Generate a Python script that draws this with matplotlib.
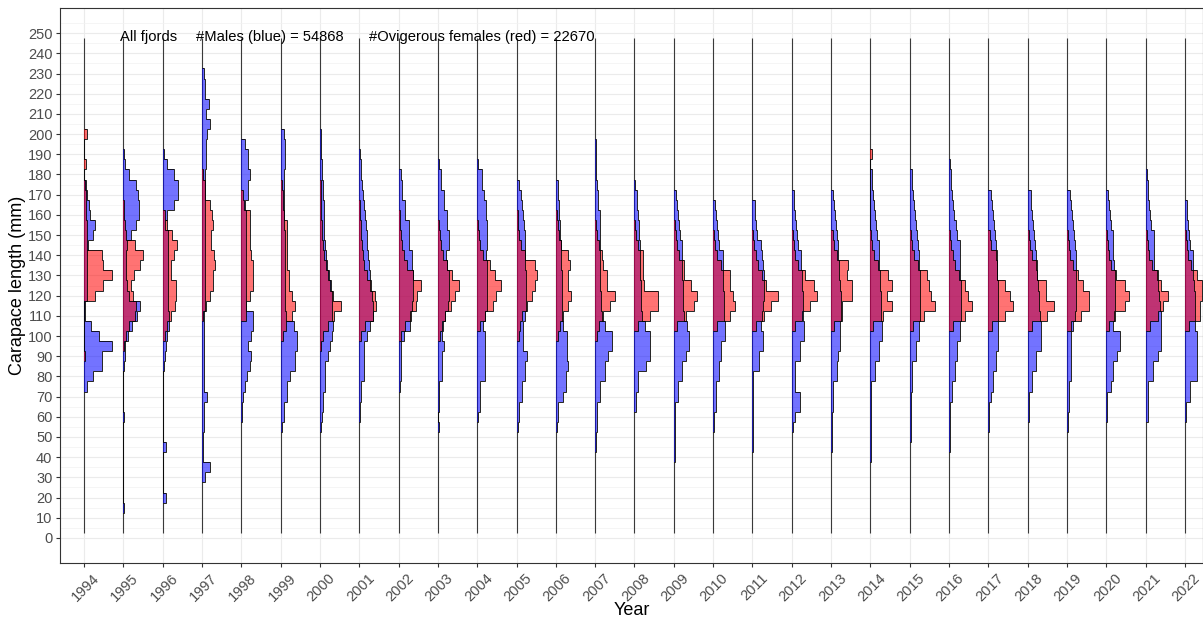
import numpy as np
import matplotlib
matplotlib.use("Agg")
import matplotlib.pyplot as plt
from matplotlib.transforms import ScaledTranslation

plt.rcParams['font.family'] = ['Liberation Sans', 'DejaVu Sans']

years = list(range(1994, 2023))

# lowest bin centre (mm) of each year's histogram, bins are 5 mm wide
male_start = [75, 15, 20, 30, 60, 55, 55, 60, 75, 55, 60, 55, 55, 45, 65,
              40, 55, 45, 55, 45, 40, 50, 45, 55, 60, 55, 60, 60, 60]
female_start = [90, 95, 100, 110, 110, 100, 95, 100, 100, 100, 105, 100, 100, 100, 105,
                105, 105, 105, 105, 105, 105, 105, 105, 105, 105, 105, 105, 105, 105]

# relative histogram widths, from the lowest bin upwards
males = [
    [3, 9, 18, 18, 28, 15, 7, 1, 1, 3, 3, 3, 3, 3, 4, 9, 11, 6, 5, 3, 2],  # 1994
    [1, 0, 0, 0, 0, 0, 0, 0, 0, 1, 0, 0, 0, 0, 1, 2, 2, 5, 9, 14, 17, 6, 4, 3, 3, 3,
     4, 8, 13, 16, 16, 15, 13, 6, 2, 1],  # 1995
    [3, 0, 0, 0, 0, 3, 0, 0, 0, 0, 0, 0, 0, 1, 2, 3, 4, 6, 6, 5, 5, 5, 5, 5, 5, 5, 5,
     2, 4, 11, 15, 15, 11, 4, 1],  # 1996
    [3, 8, 1, 1, 1, 2, 2, 2, 5, 2, 2, 2, 2, 2, 2, 2, 2, 3, 3, 3, 3, 3, 3, 3, 3, 3, 3,
     3, 3, 3, 3, 4, 4, 4, 5, 8, 4, 7, 3, 3, 2],  # 1997
    [1, 1, 2, 4, 6, 9, 10, 7, 10, 12, 12, 5, 5, 5, 5, 5, 5, 5, 5, 5, 5, 4, 7, 7, 9, 7, 7, 4],  # 1998
    [1, 3, 3, 6, 6, 9, 14, 14, 16, 16, 13, 5, 4, 4, 4, 4, 4, 4, 4, 4, 3, 3, 3, 3, 3, 3,
     4, 4, 4, 3],  # 1999
    [1, 2, 3, 3, 5, 5, 5, 8, 10, 12, 13, 12, 12, 12, 11, 9, 7, 6, 5, 4, 4, 4, 4, 3, 3,
     2, 2, 1, 1, 1],  # 2000
    [1, 1, 2, 2, 5, 5, 5, 5, 8, 11, 14, 14, 13, 11, 11, 10, 9, 8, 8, 7, 6, 5, 4, 3, 2, 2, 1],  # 2001
    [1, 2, 2, 2, 2, 5, 11, 11, 13, 14, 14, 14, 13, 13, 10, 10, 10, 6, 6, 3, 3, 2],  # 2002
    [1, 0, 1, 1, 1, 4, 4, 4, 6, 4, 5, 7, 10, 11, 11, 11, 9, 8, 11, 11, 9, 9, 6, 6, 3, 3, 1],  # 2003
    [1, 3, 3, 3, 8, 8, 8, 8, 8, 6, 8, 10, 10, 10, 10, 10, 9, 10, 10, 10, 9, 9, 7, 5, 5, 1],  # 2004
    [1, 2, 2, 5, 5, 8, 8, 10, 6, 6, 6, 8, 9, 9, 9, 9, 8, 8, 8, 8, 7, 6, 5, 4, 2],  # 2005
    [1, 2, 2, 7, 10, 10, 12, 11, 11, 11, 7, 6, 6, 6, 6, 6, 5, 5, 5, 4, 4, 3, 3, 2, 2],  # 2006
    [1, 1, 2, 2, 2, 5, 5, 10, 10, 13, 17, 17, 10, 7, 6, 6, 5, 5, 5, 5, 5, 5, 5, 5, 3, 3,
     2, 1, 1, 1, 1],  # 2007
    [2, 2, 4, 4, 12, 16, 16, 16, 11, 8, 7, 7, 7, 6, 6, 6, 6, 5, 5, 4, 3, 3, 1],  # 2008
    [1, 1, 1, 1, 1, 1, 4, 4, 8, 8, 12, 15, 15, 13, 10, 9, 9, 9, 8, 8, 8, 8, 6, 5, 4, 3, 2],  # 2009
    [1, 1, 3, 3, 3, 6, 6, 8, 8, 12, 12, 11, 11, 11, 10, 10, 10, 10, 6, 5, 4, 3, 2],  # 2010
    [1, 1, 1, 1, 1, 1, 1, 1, 7, 7, 11, 11, 9, 10, 11, 12, 12, 12, 11, 10, 9, 5, 4, 3, 3],  # 2011
    [1, 3, 8, 8, 3, 3, 3, 8, 8, 12, 12, 11, 11, 11, 10, 10, 9, 9, 6, 5, 4, 3, 2, 2],  # 2012
    [1, 1, 1, 1, 2, 2, 2, 6, 6, 7, 9, 9, 9, 10, 10, 10, 9, 8, 8, 7, 7, 6, 5, 4, 3, 2],  # 2013
    [1, 1, 1, 1, 1, 1, 1, 1, 5, 5, 9, 9, 12, 12, 11, 11, 11, 10, 10, 9, 9, 9, 7, 6, 5,
     4, 3, 2, 2],  # 2014
    [1, 1, 1, 1, 1, 2, 2, 2, 6, 6, 9, 9, 10, 10, 10, 10, 10, 9, 9, 8, 7, 6, 5, 4, 3, 2, 2],  # 2015
    [1, 1, 1, 1, 1, 3, 3, 6, 6, 8, 8, 11, 11, 12, 12, 12, 12, 11, 11, 11, 11, 8, 7, 5,
     4, 3, 2, 2, 1],  # 2016
    [1, 1, 1, 3, 5, 5, 8, 8, 10, 10, 10, 10, 10, 10, 10, 9, 9, 8, 8, 7, 6, 5, 4, 3],  # 2017
    [1, 1, 1, 4, 4, 8, 8, 13, 13, 13, 12, 11, 11, 10, 9, 8, 8, 7, 6, 5, 4, 3, 3],  # 2018
    [1, 1, 2, 2, 2, 4, 4, 4, 4, 4, 6, 8, 9, 9, 9, 9, 9, 9, 8, 7, 6, 5, 4, 3],  # 2019
    [1, 1, 1, 5, 7, 7, 11, 14, 14, 7, 8, 9, 9, 9, 9, 8, 7, 7, 7, 5, 4, 3, 2],  # 2020
    [2, 2, 2, 2, 7, 7, 12, 15, 15, 15, 15, 14, 13, 12, 11, 8, 8, 8, 8, 5, 4, 3, 2, 2, 1],  # 2021
    [1, 1, 5, 5, 12, 12, 12, 12, 12, 10, 10, 10, 10, 9, 8, 8, 8, 5, 4, 3, 2, 2],  # 2022
]

females = [
    [1, 0, 0, 0, 0, 0, 11, 19, 28, 19, 18, 3, 3, 3, 2, 2, 2, 1, 0, 2, 0, 0, 3],  # 1994
    [1, 3, 6, 12, 13, 10, 8, 11, 17, 20, 12, 3, 2, 1, 1],  # 1995
    [2, 4, 8, 12, 13, 13, 8, 8, 11, 14, 9, 4, 2],  # 1996
    [1, 4, 8, 11, 11, 13, 12, 9, 9, 11, 10, 8, 3, 3, 1],  # 1997
    [5, 5, 9, 12, 12, 12, 10, 9, 9, 9, 9, 3, 2],  # 1998
    [2, 5, 11, 14, 11, 8, 8, 6, 6, 6, 6, 6, 3, 2, 2, 1],  # 1999
    [1, 3, 8, 14, 21, 13, 10, 8, 6, 4, 3, 2, 2, 1, 1, 1, 1],  # 2000
    [2, 6, 14, 17, 16, 12, 8, 5, 4, 3, 2, 2, 1, 1],  # 2001
    [2, 6, 12, 17, 18, 22, 14, 8, 5, 3, 2, 1, 1],  # 2002
    [2, 4, 7, 13, 17, 21, 14, 9, 5, 3, 2, 1],  # 2003
    [3, 8, 16, 19, 24, 18, 13, 6, 3, 2, 1],  # 2004
    [2, 3, 5, 10, 15, 18, 20, 18, 8, 4, 2, 1, 1],  # 2005
    [2, 4, 7, 12, 15, 12, 12, 14, 12, 5, 3, 2, 1],  # 2006
    [2, 4, 8, 15, 20, 12, 12, 8, 7, 4, 2, 1],  # 2007
    [4, 16, 24, 24, 10, 9, 9, 9, 4, 2, 1],  # 2008
    [3, 12, 20, 23, 17, 10, 10, 5, 3, 2, 1],  # 2009
    [4, 17, 22, 20, 17, 17, 8, 4, 2, 1],  # 2010
    [4, 12, 19, 26, 14, 10, 6, 4, 2, 1],  # 2011
    [3, 10, 18, 25, 22, 13, 6, 3, 2, 1],  # 2012
    [3, 11, 11, 21, 21, 16, 17, 6, 3, 2],  # 2013
    [3, 13, 22, 17, 22, 18, 8, 4, 2, 1, 0, 0, 0, 0, 0, 0, 0, 2],  # 2014
    [3, 14, 25, 21, 19, 17, 8, 4, 2, 1],  # 2015
    [4, 16, 23, 19, 16, 10, 6, 4, 2, 1],  # 2016
    [4, 17, 25, 22, 17, 9, 9, 9, 3, 2],  # 2017
    [4, 19, 26, 18, 18, 9, 9, 4, 2, 1],  # 2018
    [4, 14, 22, 22, 16, 11, 6, 3, 2, 1],  # 2019
    [3, 9, 19, 23, 19, 10, 5, 3, 2, 1],  # 2020
    [4, 12, 17, 22, 15, 12, 6, 3, 2, 1],  # 2021
    [4, 15, 15, 17, 17, 12, 6, 3, 2, 1],  # 2022
]

n_males = 54868
n_females = 22670

binw = 5
scale = 1 / 39.3   # histogram width -> fraction of a year slot

fig = plt.figure(figsize=(12.03, 6.21), dpi=100)
ax = fig.add_axes([0.0499, 0.0934, 0.9501, 0.8936])

# each year: full-range baseline line, then male and female histograms
for i, yr in enumerate(years):
    ax.vlines(yr, 2.5, 247.5, color='#3a3a3a', lw=0.8, zorder=2)
    for start, w, col in [(male_start[i], males[i], (0, 0, 1, 0.55)),
                          (female_start[i], females[i], (1, 0, 0, 0.55))]:
        w = np.array(w, dtype=float)
        edges = start - binw / 2 + binw * np.arange(len(w) + 1)
        ax.stairs(yr + w * scale, edges, baseline=yr, orientation='horizontal',
                  fill=True, facecolor=col, edgecolor='none', zorder=3)
        ax.stairs(yr + w * scale, edges, baseline=yr, orientation='horizontal',
                  fill=False, color='black', lw=0.6, zorder=4)

ax.text(1994.92, 248, 'All fjords', fontsize=10.6, va='center', ha='left')
ax.text(1996.85, 248, '#Males (blue) = %d' % n_males, fontsize=10.6, va='center', ha='left')
ax.text(2001.25, 248, '#Ovigerous females (red) = %d' % n_females, fontsize=10.6,
        va='center', ha='left')

ax.set_xlim(1993.39, 2022.46)
ax.set_ylim(-12.4, 262.4)
ax.set_yticks(np.arange(0, 251, 10))
ax.set_yticks(np.arange(5, 260, 10), minor=True)
ax.set_xticks(years)
ax.set_xticklabels([str(y) for y in years], rotation=45, ha='right', rotation_mode='anchor')
ax.tick_params(axis='both', colors='#333333', labelcolor='#4D4D4D', labelsize=10.5, length=3)
ax.tick_params(axis='y', pad=2.5)
ax.tick_params(axis='x', pad=3)
ax.tick_params(axis='y', which='minor', length=0)
for lab in ax.get_xticklabels():
    lab.set_transform(lab.get_transform() + ScaledTranslation(0.08, 0, fig.dpi_scale_trans))
ax.grid(which='major', color='#EBEBEB', lw=0.8, zorder=0)
ax.grid(which='minor', axis='y', color='#F2F2F2', lw=0.5, zorder=0)
ax.set_axisbelow(True)
for s in ax.spines.values():
    s.set_color('#333333')
    s.set_linewidth(0.8)

ax.set_xlabel('Year', fontsize=13, va='center')
ax.xaxis.set_label_coords(0.5, -0.086)
ax.set_ylabel('Carapace length (mm)', fontsize=13, va='center')
ax.yaxis.set_label_coords(-0.0375, 0.5)

fig.savefig('out.png', dpi=100)
